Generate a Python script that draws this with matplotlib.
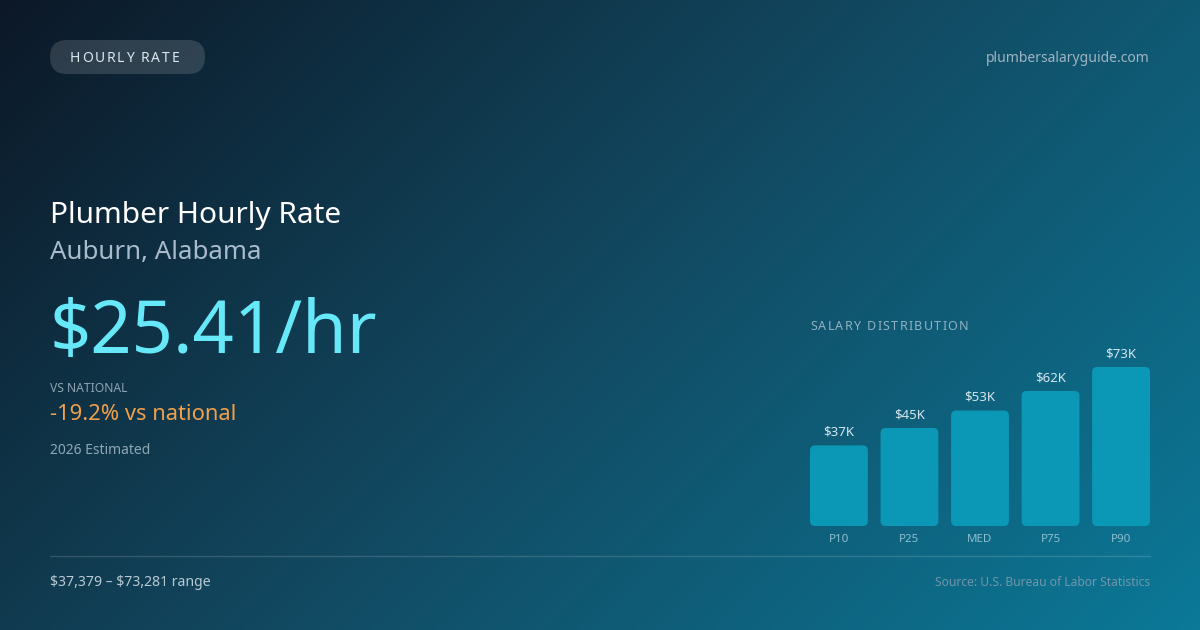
"""
carte salaire plombier - Auburn
"""
import numpy as np
import matplotlib.pyplot as plt
from matplotlib.patches import FancyBboxPatch
from matplotlib.colors import LinearSegmentedColormap

plt.rcParams['font.family'] = ['Noto Sans', 'DejaVu Sans']

W, H = 1200, 630

# donnees
categories = ['P10', 'P25', 'MED', 'P75', 'P90']
salaires_k = [37, 45, 53, 62, 73]
etiquettes = [r'\$37K', r'\$45K', r'\$53K', r'\$62K', r'\$73K']
badge = 'HOURLY RATE'
site = 'plumbersalaryguide.com'
titre = 'Plumber Hourly Rate'
lieu = 'Auburn, Alabama'
taux = r'\$25.41/hr'
ecart = '-19.2% vs national'
annee = '2026 Estimated'
plage = r'\$37,379 – \$73,281 range'
source = 'Source: U.S. Bureau of Labor Statistics'

fig = plt.figure(figsize=(W / 100, H / 100), dpi=100)

# fond degrade 135deg
bg = fig.add_axes([0, 0, 1, 1])
bg.set_xlim(0, W)
bg.set_ylim(H, 0)
bg.axis('off')
xx, yy = np.meshgrid(np.arange(W), np.arange(H))
t = (xx + yy) / (W + H)
cmap = LinearSegmentedColormap.from_list('fond', ['#0c1827', '#124a62', '#0b7998'])
bg.imshow(t, cmap=cmap, extent=(0, W, H, 0), aspect='auto', zorder=0)

rend = fig.canvas.get_renderer()


def texte_espace(ax, x, y, s, ls, **kw):
    # texte avec espacement des lettres (en px)
    ref = ax.text(0, 0, 'H', **kw)
    wh = ref.get_window_extent(rend).width
    ref.remove()
    for i, c in enumerate(s):
        w = 0
        if i:
            tt = ax.text(0, 0, s[:i] + 'H', **kw)
            w = tt.get_window_extent(rend).width - wh
            tt.remove()
        ax.text(x + w + i * ls, y, c, ha='left', **kw)


# badge
pill = FancyBboxPatch((50, 40), 155, 34, boxstyle='round,pad=0,rounding_size=17',
                      fc=(1, 1, 1, 0.14), ec='none', zorder=2)
bg.add_patch(pill)
texte_espace(bg, 70, 58, badge, 1.7, fontsize=10, color='#dce8f0', va='center', zorder=3)
bg.text(1150, 59, site, fontsize=10, color='#9fb4c2', ha='right', va='center')

# textes gauche
bg.text(50, 215, titre, fontsize=21.5, color='white', va='center')
bg.text(50, 252, lieu, fontsize=18.6, color='#a8bccb', va='center')
bg.text(50, 334, taux, fontsize=52, color='#67e8f9', va='center')
bg.text(50, 388, 'VS NATIONAL', fontsize=8.7, color='#8ea4b3', va='center')
bg.text(50, 415, ecart, fontsize=15.8, color='#f0a04b', va='center')
bg.text(50, 450, annee, fontsize=10, color='#8fa6b5', va='center')

# pied
bg.plot([50, 1150], [556, 556], color='white', alpha=0.15, lw=1)
bg.text(50, 582, plage, fontsize=10.1, color='#b8c9d4', va='center')
bg.text(1150, 582, source, fontsize=8.7, color='#7196aa', ha='right', va='center')

# distribution
texte_espace(bg, 810, 326, 'SALARY DISTRIBUTION', 1.3, fontsize=9, color='#8fb2c3', va='center')

ax = fig.add_axes([810 / W, 104 / H, 340 / W, 159 / H])
ax.set_xlim(-0.41, len(categories) - 1 + 0.41)
ax.set_ylim(0, max(salaires_k))
ax.axis('off')
larg = 0.82
pxx = 340 / (len(categories) - 1 + 0.82)
pxy = 159 / max(salaires_k)
r = 5 / pxx
asp = pxx / pxy
for i, (v, lab, cat) in enumerate(zip(salaires_k, etiquettes, categories)):
    b = FancyBboxPatch((i - larg / 2, 0), larg, v,
                       boxstyle='round,pad=0,rounding_size=%f' % r,
                       mutation_aspect=asp, fc='#0b98b6', ec='none', clip_on=False)
    ax.add_patch(b)
    ax.annotate(lab, (i, v), xytext=(0, 5), textcoords='offset points',
                ha='center', va='bottom', fontsize=9.5, color='#d6e6ee')
    ax.annotate(cat, (i, 0), xytext=(0, -9.5), textcoords='offset points',
                ha='center', va='center', fontsize=8.3, color='#8fbfcf')

fig.savefig('out.png', dpi=100)
